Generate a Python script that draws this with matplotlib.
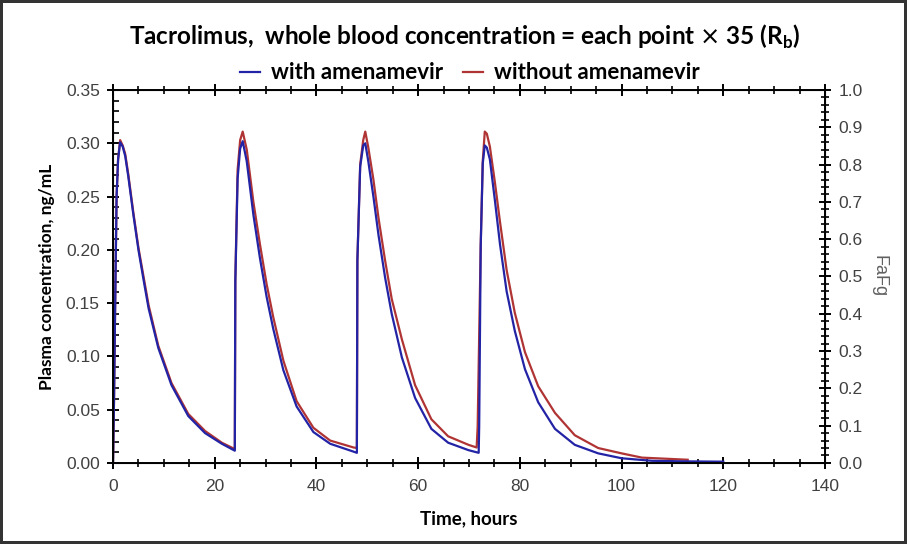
import matplotlib
matplotlib.use("Agg")
import matplotlib.pyplot as plt
from matplotlib.ticker import MultipleLocator, FormatStrFormatter

# with amenamevir (blue)
t_with = [0, 0.2, 0.4, 0.7, 1.0, 1.4, 1.9, 2.4, 3.0, 4.0, 5.0, 6.0, 7.0, 8.9, 11.5, 14.8, 18.1, 21.4, 23.95,
          24.05, 24.5, 25.0, 25.5, 26.3, 27.6, 28.9, 30.2, 31.5, 33.5, 36.1, 39.4, 42.7, 47.3, 47.95,
          48.05, 48.6, 49.2, 49.6, 50.2, 51.2, 52.2, 53.5, 54.8, 56.8, 59.4, 62.6, 65.9, 69.9, 71.5, 71.9,
          72.0, 72.3, 72.7, 73.1, 73.5, 74.1, 75.1, 76.1, 77.4, 79.0, 81.0, 83.6, 86.9, 90.8, 95.4, 100,
          106, 112, 120]
c_with = [0, 0.06, 0.14, 0.25, 0.285, 0.301, 0.297, 0.288, 0.269, 0.233, 0.200, 0.172, 0.145, 0.108,
          0.073, 0.044, 0.028, 0.018, 0.0115,
          0.170, 0.267, 0.295, 0.302, 0.283, 0.233, 0.192, 0.156, 0.126, 0.087, 0.053, 0.029, 0.018,
          0.0106, 0.0095,
          0.190, 0.278, 0.298, 0.300, 0.283, 0.250, 0.214, 0.174, 0.140, 0.099, 0.061, 0.032, 0.019,
          0.012, 0.010, 0.0095,
          0.034, 0.203, 0.281, 0.298, 0.296, 0.285, 0.246, 0.205, 0.161, 0.124, 0.088, 0.057, 0.032,
          0.017, 0.009, 0.0044, 0.002, 0.0015, 0.0012]

# without amenamevir (red)
t_without = [0, 0.2, 0.4, 0.7, 1.0, 1.4, 1.9, 2.4, 3.0, 4.0, 5.0, 6.0, 7.0, 8.9, 11.5, 14.8, 18.1, 21.4, 23.95,
             24.05, 24.5, 25.0, 25.5, 26.3, 27.6, 28.9, 30.2, 31.5, 33.5, 36.1, 39.4, 42.7, 47.3, 47.95,
             48.05, 48.6, 49.2, 49.6, 50.2, 51.2, 52.2, 53.5, 54.8, 56.8, 59.4, 62.6, 65.9, 69.9, 71.5,
             71.7, 72.3, 72.7, 73.1, 73.5, 74.1, 75.1, 76.1, 77.4, 79.0, 81.0, 83.6, 86.9, 90.8, 95.4, 100,
             104, 113]
c_without = [0, 0.06, 0.14, 0.25, 0.285, 0.303, 0.298, 0.290, 0.271, 0.235, 0.202, 0.175, 0.148, 0.110,
             0.075, 0.046, 0.030, 0.019, 0.013,
             0.172, 0.275, 0.303, 0.311, 0.294, 0.245, 0.205, 0.168, 0.137, 0.096, 0.058, 0.033, 0.021,
             0.0145, 0.014,
             0.190, 0.280, 0.303, 0.311, 0.296, 0.266, 0.230, 0.190, 0.154, 0.116, 0.073, 0.041, 0.025,
             0.017, 0.0145,
             0.034, 0.205, 0.283, 0.311, 0.309, 0.297, 0.263, 0.226, 0.181, 0.141, 0.104, 0.072, 0.047,
             0.026, 0.014, 0.009, 0.005, 0.003]

blue = "#2323a6"
red = "#b03434"
grey = "#404040"

fig = plt.figure(figsize=(9.07, 5.44), dpi=100)
fig.patch.set_edgecolor("#333333")
fig.patch.set_linewidth(3)
ax = fig.add_axes([0.1246, 0.149, 0.785, 0.6855])

ax.plot(t_without, c_without, color=red, lw=1.6, label="without amenamevir")
ax.plot(t_with, c_with, color=blue, lw=1.6, label="with amenamevir")

ax.set_xlim(0, 140)
ax.set_ylim(0, 0.35)
ax.xaxis.set_major_locator(MultipleLocator(20))
ax.xaxis.set_minor_locator(MultipleLocator(5))
ax.yaxis.set_major_locator(MultipleLocator(0.05))
ax.yaxis.set_minor_locator(MultipleLocator(0.01))
ax.yaxis.set_major_formatter(FormatStrFormatter("%.2f"))
ax.tick_params(axis="x", which="major", direction="inout", length=9, width=1.4, top=True,
               labelsize=12.5, labelcolor=grey, pad=7)
ax.tick_params(axis="x", which="minor", direction="inout", length=6, width=1.2, top=True)
ax.tick_params(axis="y", which="major", direction="inout", length=9, width=1.4,
               labelsize=12.5, labelcolor=grey, pad=5)
ax.tick_params(axis="y", which="minor", direction="in", length=4, width=1.2)
for s in ax.spines.values():
    s.set_linewidth(1.4)
for lab in ax.get_xticklabels() + ax.get_yticklabels():
    lab.set_family("Liberation Sans")

ax.set_xlabel("Time, hours", fontsize=13.5, fontweight="bold", family="Lato", labelpad=12)
ax.set_ylabel("Plasma concentration, ng/mL", fontsize=12.5, fontweight="bold", family="Lato", labelpad=8)

ax2 = ax.twinx()
ax2.set_ylim(0, 1.0)
ax2.yaxis.set_major_locator(MultipleLocator(0.1))
ax2.yaxis.set_minor_locator(MultipleLocator(0.02))
ax2.yaxis.set_major_formatter(FormatStrFormatter("%.1f"))
ax2.tick_params(axis="y", which="major", direction="inout", length=9, width=1.4,
                labelsize=12.5, labelcolor=grey, pad=5)
ax2.tick_params(axis="y", which="minor", direction="inout", length=6, width=1.2)
for lab in ax2.get_yticklabels():
    lab.set_family("Liberation Sans")
ax2.set_ylabel("FaFg", fontsize=13, color="#606060", family="Liberation Sans", rotation=270, labelpad=18)

fig.text(0.512, 0.932, r"Tacrolimus,  whole blood concentration = each point $\times$ 35 (R$_\mathregular{b}$)",
         ha="center", va="center", fontsize=17.5, fontweight="bold", family="Lato")

h, l = ax.get_legend_handles_labels()
fig.legend(h[::-1], l[::-1], loc="center", bbox_to_anchor=(0.518, 0.866), ncol=2, frameon=False,
           handlelength=0.9, handletextpad=0.5, columnspacing=0.9,
           prop={"family": "Lato", "weight": "bold", "size": 16})

fig.savefig("out.png", dpi=100)
